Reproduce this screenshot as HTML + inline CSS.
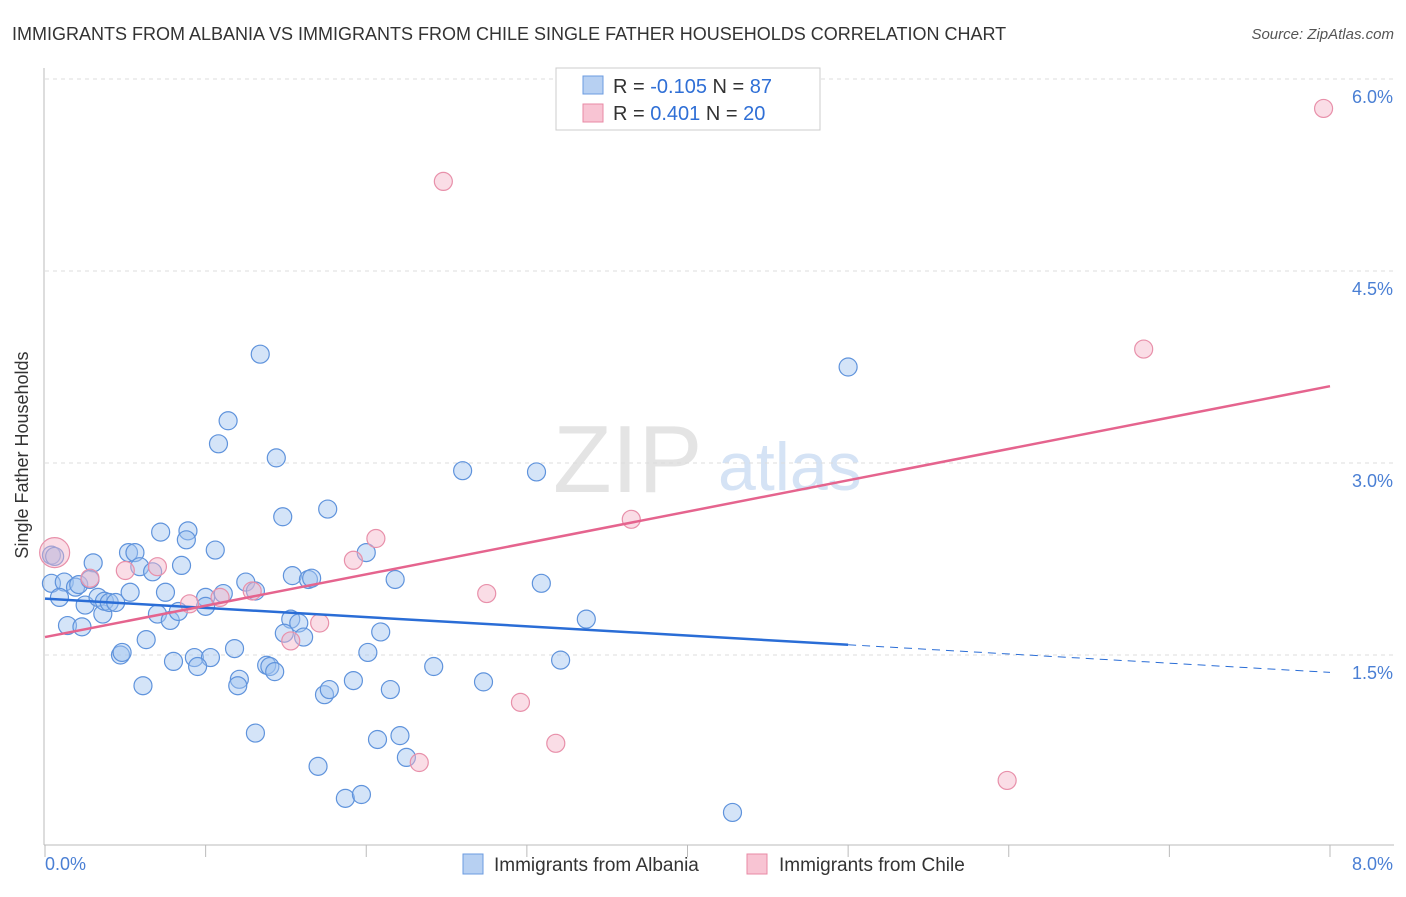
<!DOCTYPE html>
<html><head><meta charset="utf-8"><style>
body{margin:0;background:#fff;font-family:"Liberation Sans",sans-serif}
svg text{font-family:"Liberation Sans",sans-serif}
</style></head><body>
<svg id="c" width="1406" height="892" viewBox="0 0 1406 892">
<text x="12" y="40" font-size="18" fill="#333">IMMIGRANTS FROM ALBANIA VS IMMIGRANTS FROM CHILE SINGLE FATHER HOUSEHOLDS CORRELATION CHART</text>
<text x="1394" y="39" font-size="15" fill="#555" font-style="italic" text-anchor="end">Source: ZipAtlas.com</text>
<g>
<text x="553" y="492" font-size="96" fill="#e4e4e4" font-family="Liberation Serif,serif">ZIP</text>
<text x="718" y="490" font-size="68" fill="#d5e3f5">atlas</text>
</g>
<g id="grid"></g>
<line x1="44" y1="68" x2="44" y2="845" stroke="#bbb"/>
<line x1="44" y1="845" x2="1394" y2="845" stroke="#bbb"/>
<g id="xt"></g>
<text x="28" y="455" font-size="18" fill="#333" text-anchor="middle" transform="rotate(-90 28 455)">Single Father Households</text>
<g id="pts"></g>
<g id="lines"></g>
<g>
<rect x="556" y="68" width="264" height="62" fill="#fff" stroke="#ccc"/>
<rect x="583" y="76" width="20" height="18" fill="#b7d0f2" stroke="#6b9be0"/>
<rect x="583" y="104" width="20" height="18" fill="#f8c4d3" stroke="#e88aa5"/>
<text x="613" y="93" font-size="20" fill="#333">R = <tspan fill="#2f6fd6">-0.105</tspan>   N = <tspan fill="#2f6fd6">87</tspan></text>
<text x="613" y="120" font-size="20" fill="#333">R =  <tspan fill="#2f6fd6">0.401</tspan>   N = <tspan fill="#2f6fd6">20</tspan></text>
</g>
<g>
<rect x="463" y="854" width="20" height="20" fill="#b7d0f2" stroke="#6b9be0"/>
<text x="494" y="871" font-size="19" fill="#333">Immigrants from Albania</text>
<rect x="747" y="854" width="20" height="20" fill="#f8c4d3" stroke="#e88aa5"/>
<text x="779" y="871" font-size="19" fill="#333">Immigrants from Chile</text>
</g>
</svg>
<script>
const yTicks=[1.5,3.0,4.5,6.0];
const xTickLabels=["0.0%","8.0%"];
const blueX=[0.04,0.06,0.04,0.12,0.09,0.19,0.21,0.30,0.28,0.25,0.33,0.36,0.37,0.40,0.44,0.14,0.23,0.52,0.56,0.59,0.67,0.53,0.72,0.75,0.70,0.78,0.83,0.89,0.88,0.85,1.06,1.00,1.00,1.11,0.63,0.47,0.48,0.61,0.80,0.93,1.03,0.95,1.18,1.21,1.20,1.25,1.31,1.34,1.14,1.08,1.44,1.48,1.76,1.54,1.64,1.66,1.53,1.58,1.49,1.61,1.38,1.40,1.43,1.31,1.70,1.74,1.77,2.00,2.18,2.09,2.01,1.92,2.15,2.07,2.21,2.25,1.87,1.97,2.60,3.06,3.09,3.37,2.42,2.73,3.21,5.00,4.28];
const blueY=[2.28,2.27,2.06,2.07,1.95,2.03,2.05,2.22,2.09,1.89,1.95,1.82,1.92,1.91,1.91,1.73,1.72,2.30,2.30,2.19,2.15,1.99,2.46,1.99,1.82,1.77,1.84,2.47,2.40,2.20,2.32,1.95,1.88,1.98,1.62,1.50,1.52,1.26,1.45,1.48,1.48,1.41,1.55,1.31,1.26,2.07,2.00,3.85,3.33,3.15,3.04,2.58,2.64,2.12,2.09,2.10,1.78,1.75,1.67,1.64,1.42,1.41,1.37,0.89,0.63,1.19,1.23,2.30,2.09,1.68,1.52,1.30,1.23,0.84,0.87,0.70,0.38,0.41,2.94,2.93,2.06,1.78,1.41,1.29,1.46,3.75,0.27];
const pinkX=[0.06,0.28,0.50,0.70,0.90,1.09,1.29,1.53,1.71,1.92,2.06,2.75,2.96,3.18,2.33,2.48,3.65,6.84,5.99,7.96];
const pinkY=[2.30,2.10,2.16,2.19,1.90,1.95,2.00,1.61,1.75,2.24,2.41,1.98,1.13,0.81,0.66,5.20,2.56,3.89,0.52,5.77];
const pinkSize=[15,9,9,9,9,9,9,9,9,9,9,9,9,9,9,9,9,9,9,9];
const blueTrend=[1.94,-0.072];
const pinkTrend=[1.64,0.245];
const blueSolidEnd=5.0;
const NS="http://www.w3.org/2000/svg";
const sx=v=>45+v*160.625, sy=v=>847-v*128;
function mk(t,a,p){const e=document.createElementNS(NS,t);for(const k in a)e.setAttribute(k,a[k]);p.appendChild(e);return e;}
const grid=document.getElementById('grid');
yTicks.forEach(t=>{
 const l=mk('line',{x1:45,x2:1393,y1:sy(t),y2:sy(t),stroke:'#ddd','stroke-dasharray':'4,4'},grid);
 
 
 const tx=mk('text',{x:1393,y:sy(t)+24,'font-size':18,fill:'#4a7fd4','text-anchor':'end'},grid);
 tx.textContent=t.toFixed(1)+'%';
 
 
});
const xt=document.getElementById('xt');
for(let i=0;i<=8;i++){
 const l=mk('line',{x1:sx(i),x2:sx(i),y1:845,y2:857,stroke:'#bbb'},xt);
 
 
}
[[0,45,'start'],[1,1393,'end']].forEach(([i,x,a])=>{
 const t=mk('text',{x:x,y:870,'font-size':18,fill:'#4a7fd4','text-anchor':a},xt);
 t.textContent=xTickLabels[i];
 
 
});
const pts=document.getElementById('pts');
blueX.forEach((x,i)=>{
 const c=mk('circle',{cx:sx(x),cy:sy(blueY[i]),r:9,fill:'rgba(160,195,240,0.45)',stroke:'#5f93dc','stroke-width':1.2},pts);
 
 
});
pinkX.forEach((x,i)=>{
 const c=mk('circle',{cx:sx(x),cy:sy(pinkY[i]),r:pinkSize[i],fill:'rgba(245,180,200,0.45)',stroke:'#e890aa','stroke-width':1.2},pts);
 
 
});
const lines=document.getElementById('lines');
const bl=mk('line',{x1:sx(0),y1:sy(blueTrend[0]),x2:sx(blueSolidEnd),y2:sy(blueTrend[0]+blueTrend[1]*blueSolidEnd),stroke:'#2a6dd6','stroke-width':2.5},lines);


const bd=mk('line',{x1:sx(blueSolidEnd),y1:sy(blueTrend[0]+blueTrend[1]*blueSolidEnd),x2:sx(8),y2:sy(blueTrend[0]+blueTrend[1]*8),stroke:'#2a6dd6','stroke-width':1,'stroke-dasharray':'8,6'},lines);


const pl=mk('line',{x1:sx(0),y1:sy(pinkTrend[0]),x2:sx(8),y2:sy(pinkTrend[0]+pinkTrend[1]*8),stroke:'#e5648e','stroke-width':2.5},lines);


</script>
</body></html>
